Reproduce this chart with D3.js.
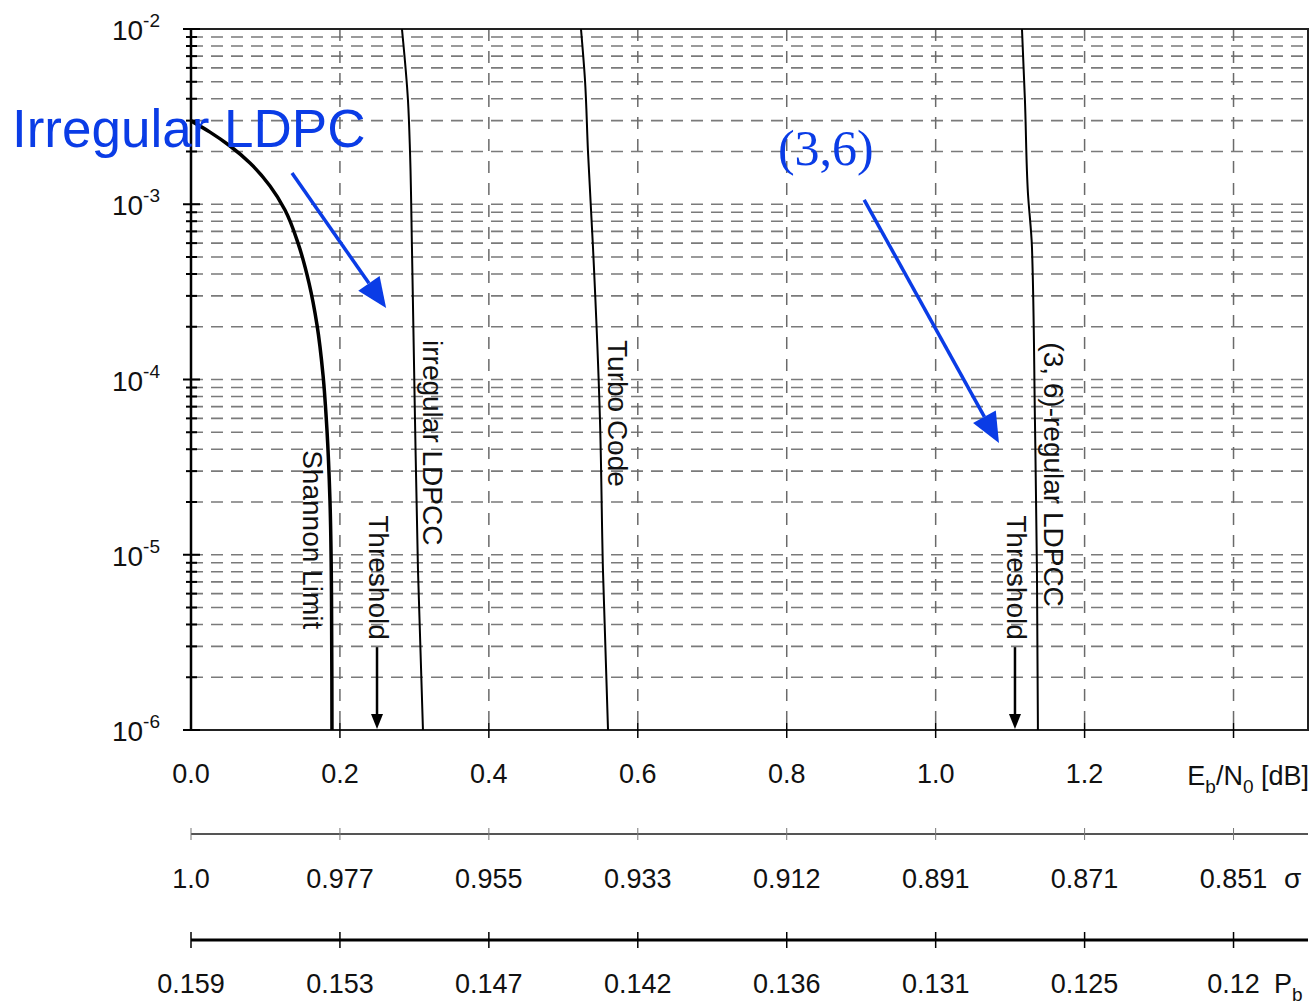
<!DOCTYPE html>
<html>
<head>
<meta charset="utf-8">
<script src="https://cdn.jsdelivr.net/npm/d3@7"></script>
<style>
  body { margin: 0; background: #fff; }
  text { font-family: "Liberation Sans", Arial, sans-serif; fill: #111; }
</style>
</head>
<body>
<div id="chart"></div>
<script>
// ---- data ----
const xTicks = [0, 0.2, 0.4, 0.6, 0.8, 1.0, 1.2, 1.4];
const xTickLabels = ["0.0", "0.2", "0.4", "0.6", "0.8", "1.0", "1.2", ""];
const sigmaLabels = ["1.0", "0.977", "0.955", "0.933", "0.912", "0.891", "0.871", "0.851"];
const pbLabels = ["0.159", "0.153", "0.147", "0.142", "0.136", "0.131", "0.125", "0.12"];
const decades = [-2, -3, -4, -5, -6];

const shannon = [
  [0.0, 2.99e-3], [0.0255, 2.58e-3], [0.0524, 2.15e-3], [0.0792, 1.72e-3],
  [0.1061, 1.27e-3], [0.1262, 9.27e-4], [0.1437, 6.0e-4], [0.1585, 3.55e-4],
  [0.1692, 2.05e-4], [0.1773, 1.06e-4], [0.1826, 5.14e-5], [0.1866, 2.05e-5],
  [0.1887, 5.5e-6], [0.1893, 1e-6]
];
const irregular = [
  [0.2833, 1e-2], [0.2914, 3.9e-3], [0.2941, 2.0e-3], [0.2967, 5.7e-4],
  [0.3008, 5.9e-5], [0.3048, 8.2e-6], [0.3115, 1e-6]
];
const turbo = [
  [0.5237, 1e-2], [0.5291, 5.1e-3], [0.5331, 2.0e-3], [0.5398, 5.7e-4],
  [0.5492, 5.9e-5], [0.5532, 8.2e-6], [0.5600, 1e-6]
];
const regular36 = [
  [1.1159, 1e-2], [1.1199, 3.9e-3], [1.1239, 1.16e-3], [1.1293, 5.7e-4],
  [1.1333, 5.9e-5], [1.1360, 8.2e-6], [1.1373, 1e-6]
];
const thresholds = [0.2498, 1.1065];

// rotated curve labels: [x, y at top of text, text]
const curveLabels = [
  [0.150, 3.95e-5, "Shannon Limit"],
  [0.3115, 1.68e-4, "irregular LDPCC"],
  [0.560, 1.68e-4, "Turbo Code"],
  [1.1454, 1.63e-4, "(3, 6)-regular LDPCC"],
  [0.239, 1.68e-5, "Threshold"],
  [1.0958, 1.68e-5, "Threshold"]
];

// blue annotations
const blueNotes = [
  { text: "Irregular LDPC", x: -0.2404, y: 2.12e-3, serif: false, size: 53 },
  { text: "(3,6)", x: 0.7882, y: 1.67e-3, serif: true, size: 50 }
];
const blueArrows = [
  { from: [0.1356, 1.51e-3], to: [0.262, 2.56e-4] },
  { from: [0.904, 1.06e-3], to: [1.085, 4.34e-5] }
];

// ---- layout ----
const W = 1312, H = 1006;
const pLeft = 191, pRight = 1308, pTop = 29, pBottom = 730;
const blue = "#0a3ce6";

const svg = d3.select("#chart").append("svg").attr("width", W).attr("height", H);

const x = d3.scaleLinear().domain([0, 1.5]).range([pLeft, pRight]);
const y = d3.scaleLog().domain([1e-6, 1e-2]).range([pBottom, pTop]);

// minor/major y values
const yGrid = [];
decades.slice(1).forEach((d) => {
  for (let m = 1; m <= 9; m++) yGrid.push(m * Math.pow(10, d));
});
const isMajor = (v) => Math.abs(Math.log10(v) - Math.round(Math.log10(v))) < 1e-6;

// horizontal grid
svg.append("g")
  .selectAll("line")
  .data(yGrid.filter((v) => v > 1e-6))
  .enter()
  .append("line")
  .attr("x1", pLeft).attr("x2", pRight)
  .attr("y1", (d) => y(d)).attr("y2", (d) => y(d))
  .attr("stroke", "#7a7a7a")
  .attr("stroke-width", 1.6)
  .attr("stroke-dasharray", "12,8");

// vertical grid
svg.append("g")
  .selectAll("line")
  .data(xTicks.filter((v) => v > 0))
  .enter()
  .append("line")
  .attr("x1", (d) => x(d)).attr("x2", (d) => x(d))
  .attr("y1", pTop).attr("y2", pBottom)
  .attr("stroke", "#6a6a6a")
  .attr("stroke-width", 1.5)
  .attr("stroke-dasharray", "12,10");

// frame
svg.append("rect")
  .attr("x", pLeft).attr("y", pTop)
  .attr("width", pRight - pLeft).attr("height", pBottom - pTop)
  .attr("fill", "none").attr("stroke", "#222").attr("stroke-width", 2);
svg.append("line")
  .attr("x1", pLeft).attr("x2", pLeft).attr("y1", pTop).attr("y2", pBottom)
  .attr("stroke", "#000").attr("stroke-width", 2.5);

// y ticks crossing the axis
svg.append("g")
  .selectAll("line")
  .data(yGrid.concat([1e-2]))
  .enter()
  .append("line")
  .attr("x1", (d) => (isMajor(d) ? pLeft - 8 : pLeft - 5))
  .attr("x2", (d) => (isMajor(d) ? pLeft + 9 : pLeft + 6))
  .attr("y1", (d) => y(d)).attr("y2", (d) => y(d))
  .attr("stroke", "#000").attr("stroke-width", 2);

// y tick labels 10^-n
const yLab = svg.append("g")
  .selectAll("text")
  .data(decades)
  .enter()
  .append("text")
  .attr("x", 160)
  .attr("y", (d) => y(Math.pow(10, d)) + 11)
  .attr("text-anchor", "end")
  .style("font-size", "28px");
yLab.append("tspan").text("10");
yLab.append("tspan").attr("dy", -13).style("font-size", "19px").text((d) => d);

// x ticks
svg.append("g")
  .selectAll("line")
  .data(xTicks.filter((v) => v > 0))
  .enter()
  .append("line")
  .attr("x1", (d) => x(d)).attr("x2", (d) => x(d))
  .attr("y1", pBottom - 7).attr("y2", pBottom + 8)
  .attr("stroke", "#000").attr("stroke-width", 1.5);

svg.append("g")
  .selectAll("text")
  .data(xTicks)
  .enter()
  .append("text")
  .attr("x", (d) => x(d))
  .attr("y", 783)
  .attr("text-anchor", "middle")
  .style("font-size", "27px")
  .text((d, i) => xTickLabels[i]);

// Eb/N0 [dB]
const ebn0 = svg.append("text")
  .attr("x", 1309).attr("y", 785)
  .attr("text-anchor", "end")
  .style("font-size", "27px");
ebn0.append("tspan").text("E");
ebn0.append("tspan").attr("dy", 8).style("font-size", "19px").text("b");
ebn0.append("tspan").attr("dy", -8).text("/N");
ebn0.append("tspan").attr("dy", 8).style("font-size", "19px").text("0");
ebn0.append("tspan").attr("dy", -8).text(" [dB]");

// sigma axis
svg.append("line")
  .attr("x1", pLeft).attr("x2", pRight).attr("y1", 834).attr("y2", 834)
  .attr("stroke", "#555").attr("stroke-width", 2);
svg.append("g")
  .selectAll("line")
  .data(xTicks)
  .enter()
  .append("line")
  .attr("x1", (d) => x(d)).attr("x2", (d) => x(d))
  .attr("y1", 828).attr("y2", 840)
  .attr("stroke", "#777").attr("stroke-width", 1);
svg.append("g")
  .selectAll("text")
  .data(xTicks)
  .enter()
  .append("text")
  .attr("x", (d) => x(d))
  .attr("y", 888)
  .attr("text-anchor", "middle")
  .style("font-size", "27px")
  .text((d, i) => sigmaLabels[i]);
svg.append("text")
  .attr("x", 1284).attr("y", 888)
  .style("font-size", "28px")
  .text("σ");

// Pb axis
svg.append("line")
  .attr("x1", pLeft).attr("x2", pRight).attr("y1", 940).attr("y2", 940)
  .attr("stroke", "#000").attr("stroke-width", 3);
svg.append("g")
  .selectAll("line")
  .data(xTicks)
  .enter()
  .append("line")
  .attr("x1", (d) => x(d)).attr("x2", (d) => x(d))
  .attr("y1", 932).attr("y2", 948)
  .attr("stroke", "#000").attr("stroke-width", 1.5);
svg.append("g")
  .selectAll("text")
  .data(xTicks)
  .enter()
  .append("text")
  .attr("x", (d) => x(d))
  .attr("y", 993)
  .attr("text-anchor", "middle")
  .style("font-size", "27px")
  .text((d, i) => pbLabels[i]);
const pb = svg.append("text").attr("x", 1274).attr("y", 993).style("font-size", "27px");
pb.append("tspan").text("P");
pb.append("tspan").attr("dy", 8).style("font-size", "19px").text("b");

// curves
const line = d3.line()
  .x((d) => x(d[0]))
  .y((d) => y(d[1]))
  .curve(d3.curveMonotoneY);

svg.append("path").datum(shannon).attr("d", line)
  .attr("fill", "none").attr("stroke", "#000").attr("stroke-width", 3.5);
[irregular, turbo, regular36].forEach((c) => {
  svg.append("path").datum(c).attr("d", line)
    .attr("fill", "none").attr("stroke", "#000").attr("stroke-width", 2);
});

// threshold arrows
thresholds.forEach((t) => {
  svg.append("line")
    .attr("x1", x(t)).attr("x2", x(t))
    .attr("y1", y(2.97e-6)).attr("y2", pBottom - 12)
    .attr("stroke", "#000").attr("stroke-width", 2.5);
  svg.append("path")
    .attr("d", `M${x(t) - 6},${pBottom - 16} L${x(t) + 6},${pBottom - 16} L${x(t)},${pBottom - 1} Z`)
    .attr("fill", "#000");
});

// rotated labels
svg.append("g")
  .selectAll("text")
  .data(curveLabels)
  .enter()
  .append("text")
  .attr("transform", (d) => `translate(${x(d[0])},${y(d[1])}) rotate(90)`)
  .style("font-size", "28px")
  .text((d) => d[2]);

// blue annotations
svg.append("g")
  .selectAll("text")
  .data(blueNotes)
  .enter()
  .append("text")
  .attr("x", (d) => x(d.x))
  .attr("y", (d) => y(d.y))
  .style("font-family", (d) => (d.serif ? "'Liberation Serif', 'Times New Roman', serif" : "'Liberation Sans', Arial, sans-serif"))
  .style("font-size", (d) => d.size + "px")
  .style("fill", blue)
  .text((d) => d.text);

blueArrows.forEach((a) => {
  const x1 = x(a.from[0]), y1 = y(a.from[1]);
  const x2 = x(a.to[0]), y2 = y(a.to[1]);
  const len = Math.hypot(x2 - x1, y2 - y1);
  const ux = (x2 - x1) / len, uy = (y2 - y1) / len;
  const headL = 30, headW = 13;
  const bx = x2 - ux * headL, by = y2 - uy * headL;
  svg.append("line")
    .attr("x1", x1).attr("y1", y1).attr("x2", bx).attr("y2", by)
    .attr("stroke", blue).attr("stroke-width", 3.5);
  svg.append("path")
    .attr("d", `M${x2},${y2} L${bx - uy * headW},${by + ux * headW} L${bx + uy * headW},${by - ux * headW} Z`)
    .attr("fill", blue);
});
</script>
</body>
</html>
